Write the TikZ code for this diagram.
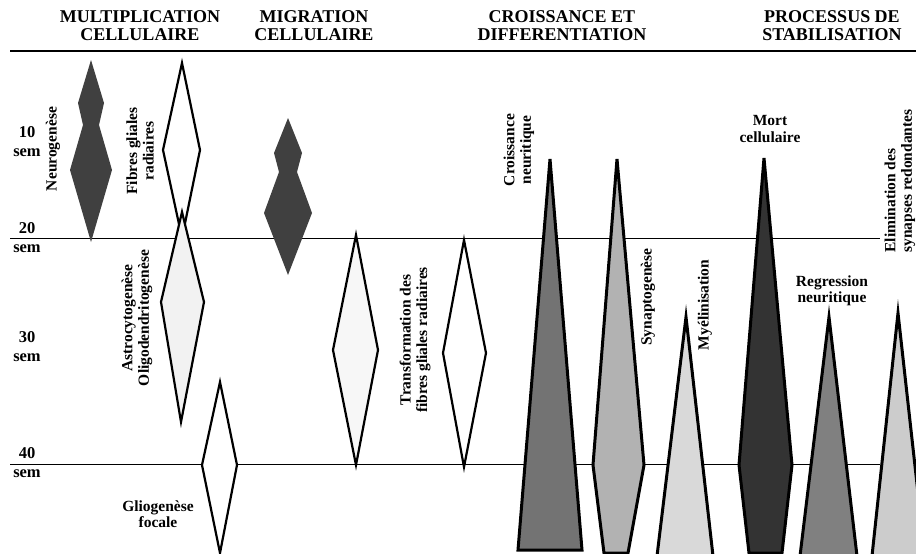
\documentclass[tikz,border=0pt]{standalone}
\usepackage{fontspec}
\setmainfont{Liberation Serif}
\begin{document}
\begin{tikzpicture}[
    x=1pt, y=-1pt,
    header/.style={font=\fontsize{18}{18}\selectfont\bfseries, align=center},
    lbl/.style={font=\fontsize{15.5}{16.5}\selectfont\bfseries, align=center},
    vlbl/.style={lbl, rotate=90},
    week/.style={font=\fontsize{16.5}{19}\selectfont\bfseries, align=center},
    rule/.style={line width=1pt},
    blob/.style={fill=black!75},
    losange/.style={draw, line width=2.2pt, fill=white},
    spike/.style={draw, line width=3pt}
]
    \useasboundingbox (0,0) rectangle (916,554);

    % Headers
    \node[header] (mult) at (140,26) {MULTIPLICATION\\CELLULAIRE};
    \node[header] (migr) at (314,26) {MIGRATION\\CELLULAIRE};
    \node[header] (crois) at (562,26) {CROISSANCE ET\\DIFFERENTIATION};
    \node[header] (stab) at (832,26) {PROCESSUS DE\\STABILISATION};

    % Time lines
    \draw[line width=1.2pt] (10,51) -- (916,51);
    \draw[rule] (10,238) -- (880,238);
    \draw[rule] (10,464) -- (880,464);

    % Weeks
    \node[week] (w10) at (27,142) {10\\sem};
    \node[week] (w20) at (27,238) {20\\sem};
    \node[week] (w30) at (27,347) {30\\sem};
    \node[week] (w40) at (27,463) {40\\sem};

    % Multiplication cellulaire
    \fill[blob] (91,60) -- (104,103) -- (99,125) -- (112,170) -- (91,242)
        -- (70,170) -- (83,125) -- (78,103) -- cycle;
    \node[vlbl] (neuro) at (53,149) {Neurogenèse};
    \draw[losange] (182,63) -- (200,150) -- (182,238) -- (163,150) -- cycle;
    \node[vlbl] (fibres) at (140,151) {Fibres gliales\\radiaires};
    \draw[losange, fill=black!5] (182,212) -- (204,302) -- (181,422) -- (161,302) -- cycle;
    \node[vlbl] (astro) at (137,318) {Astrocytogenèse\\Oligodendritogenèse};
    \draw[losange] (220,382) -- (237,465) -- (220,553) -- (202,465) -- cycle;
    \node[lbl] (glio) at (158,514) {Gliogenèse\\focale};

    % Migration cellulaire
    \fill[blob] (288,118) -- (302,153) -- (297,172) -- (312,213) -- (288,275)
        -- (264,213) -- (279,172) -- (274,153) -- cycle;
    \draw[losange, fill=black!3] (356,235) -- (378,350) -- (356,465) -- (333,350) -- cycle;
    \draw[losange] (464,240) -- (486,353) -- (464,467) -- (443,353) -- cycle;
    \node[vlbl] (transf) at (415,340) {Transformation des\\fibres gliales radiaires};

    % Croissance et differentiation
    \draw[spike, fill=black!55] (550,159) -- (582,550) -- (518,550) -- cycle;
    \node[vlbl] (neurit) at (519,150) {Croissance\\neuritique};
    \draw[spike, fill=black!30] (617,159) -- (644,465) -- (628,553) -- (604,553) -- (593,465) -- cycle;
    \node[vlbl] (synap) at (648,297) {Synaptogenèse};
    \draw[spike, fill=black!15] (686,317) -- (713,556) -- (657,556) -- cycle;
    \node[vlbl] (myel) at (705,305) {Myélinisation};

    % Processus de stabilisation
    \draw[spike, fill=black!80] (764,158) -- (792,465) -- (782,553) -- (749,553) -- (739,465) -- cycle;
    \node[lbl] (mort) at (770,129) {Mort\\cellulaire};
    \draw[spike, fill=black!50] (829,317) -- (857,556) -- (800,556) -- cycle;
    \node[lbl] (regr) at (832,291) {Regression\\neuritique};
    \draw[spike, fill=black!20] (898,313) -- (925,556) -- (872,556) -- cycle;
    \node[vlbl, align=left, anchor=west] (elim) at (900,256) {Elimination des\\synapses redondantes};

\end{tikzpicture}
\end{document}
